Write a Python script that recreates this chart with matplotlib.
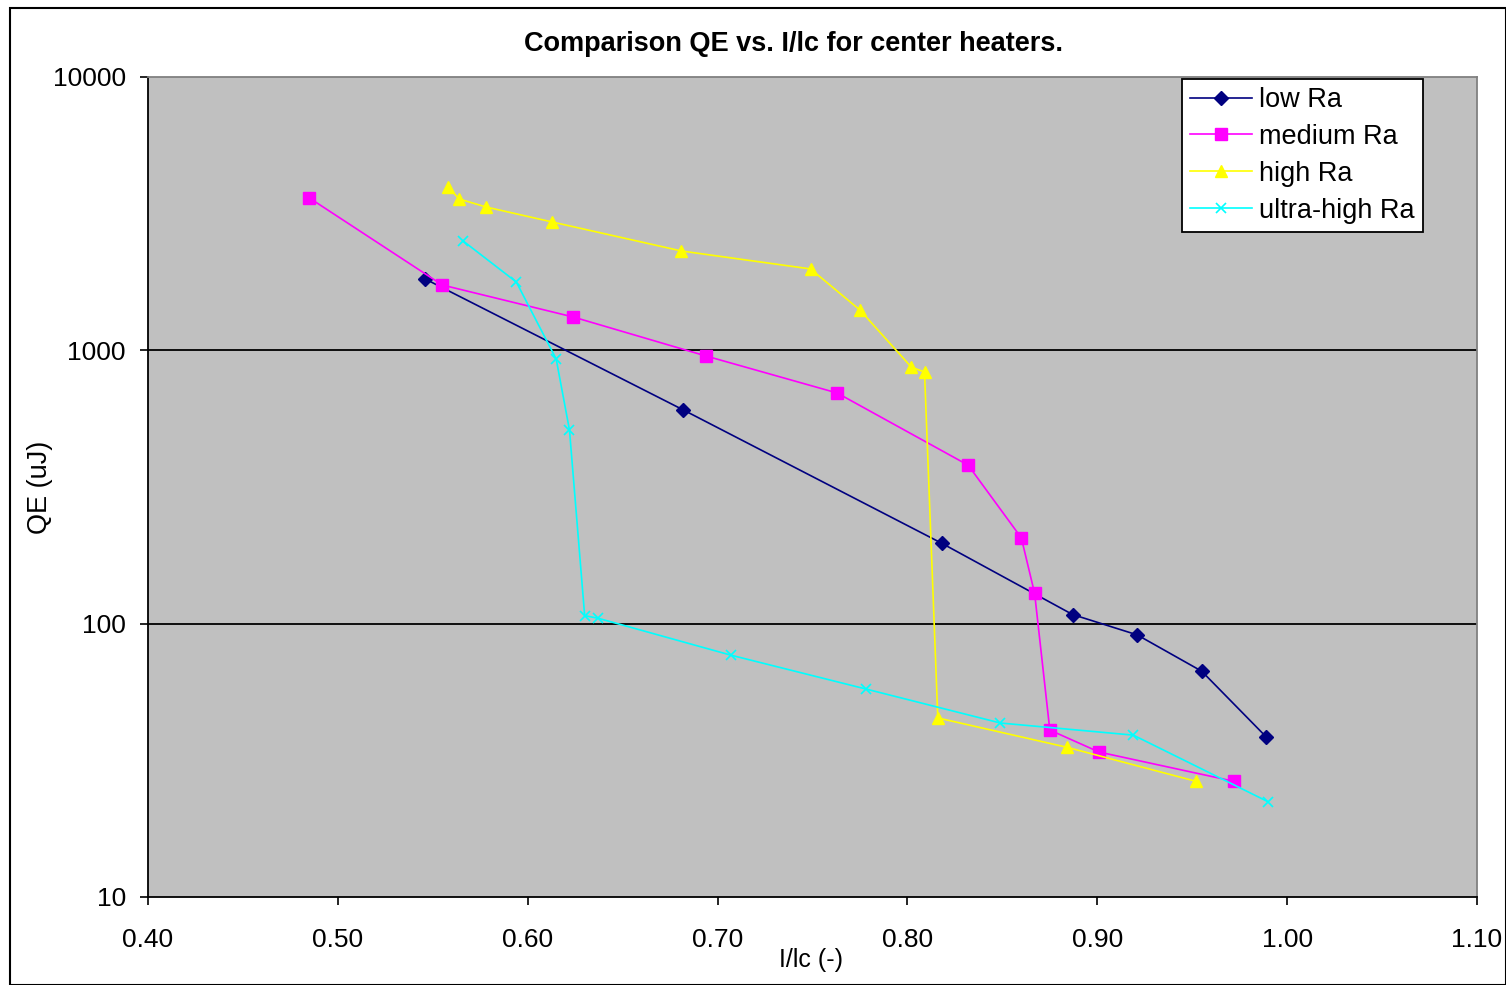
import numpy as np
import matplotlib.pyplot as plt
from matplotlib.patches import Rectangle
from matplotlib.ticker import FixedLocator, NullLocator

plt.rcParams['font.family'] = ['Liberation Sans', 'DejaVu Sans']

# data
low_x = [0.546, 0.682, 0.818, 0.887, 0.921, 0.955, 0.989]
low_y = [1824, 605, 197, 108, 91, 67, 38.5]

med_x = [0.485, 0.555, 0.624, 0.694, 0.763, 0.832, 0.860, 0.867, 0.875, 0.901, 0.972]
med_y = [3609, 1734, 1324, 953, 698, 380, 206, 129, 40.8, 33.9, 26.5]

high_x = [0.558, 0.564, 0.578, 0.613, 0.681, 0.749, 0.775, 0.802, 0.809, 0.816, 0.884, 0.952]
high_y = [3960, 3577, 3346, 2947, 2309, 1985, 1404, 869, 833, 45.2, 35.3, 26.5]

ultra_x = [0.566, 0.594, 0.615, 0.622, 0.630, 0.637, 0.707, 0.778, 0.849, 0.919, 0.990]
ultra_y = [2512, 1778, 929, 511, 107, 104.7, 76.7, 57.7, 43.3, 39.1, 22.3]

x_ticks = [0.40, 0.50, 0.60, 0.70, 0.80, 0.90, 1.00, 1.10]
y_ticks = [10, 100, 1000, 10000]

fig = plt.figure(figsize=(15.06, 9.85), dpi=100)
ax = fig.add_axes([148/1506, 1-897/985, (1477-148)/1506, (897-77)/985])
ax.set_facecolor('#C0C0C0')

ax.plot(low_x, low_y, color='#000080', lw=1.2, marker='D', ms=7, label='low Ra')
ax.plot(med_x, med_y, color='#FF00FF', lw=1.2, marker='s', ms=8, label='medium Ra')
ax.plot(high_x, high_y, color='#FFFF00', lw=1.2, marker='^', ms=9, label='high Ra')
ax.plot(ultra_x, ultra_y, color='#00FFFF', lw=1.2, marker='x', ms=7, mew=1.2, label='ultra-high Ra')

ax.set_yscale('log')
ax.set_xlim(0.40, 1.10)
ax.set_ylim(10, 10000)
ax.xaxis.set_major_locator(FixedLocator(x_ticks))
ax.set_xticklabels(['%.2f' % v for v in x_ticks])
ax.yaxis.set_major_locator(FixedLocator(y_ticks))
ax.yaxis.set_minor_locator(NullLocator())
ax.set_yticklabels([str(v) for v in y_ticks])
ax.tick_params(axis='both', labelsize=19, direction='out', length=6, width=1.2)
ax.tick_params(axis='x', pad=16)
ax.tick_params(axis='y', pad=10)

for v in [100, 1000]:
    ax.axhline(v, color='black', lw=1.3, zorder=1)

ax.spines['left'].set_color('black')
ax.spines['bottom'].set_color('black')
ax.spines['top'].set_color('#808080')
ax.spines['right'].set_color('#808080')
for s in ax.spines.values():
    s.set_linewidth(1.3)

fig.text(793/1506, 1-44/985, 'Comparison QE vs. I/lc for center heaters.',
         ha='center', va='center', fontsize=19.5, fontweight='bold')
fig.text(811/1506, 1-960/985, 'I/lc (-)', ha='center', va='center', fontsize=18)
fig.text(40/1506, 1-487/985, 'QE (uJ)', ha='center', va='center', fontsize=19.5, rotation=90)

leg = ax.legend(loc='upper left', bbox_to_anchor=((1182-148)/1329, (897-79)/820),
                borderaxespad=0, fontsize=19.5, fancybox=False, framealpha=1,
                edgecolor='black', handlelength=2.3, handletextpad=0.25,
                labelspacing=0.4, borderpad=0.3)
leg.get_frame().set_linewidth(1.3)

fig.patches.append(Rectangle((10/1506, 0), 1 - 10/1506, 1 - 8/985, transform=fig.transFigure,
                             fill=False, edgecolor='black', lw=1.5))

fig.savefig('out.png', dpi=100)
